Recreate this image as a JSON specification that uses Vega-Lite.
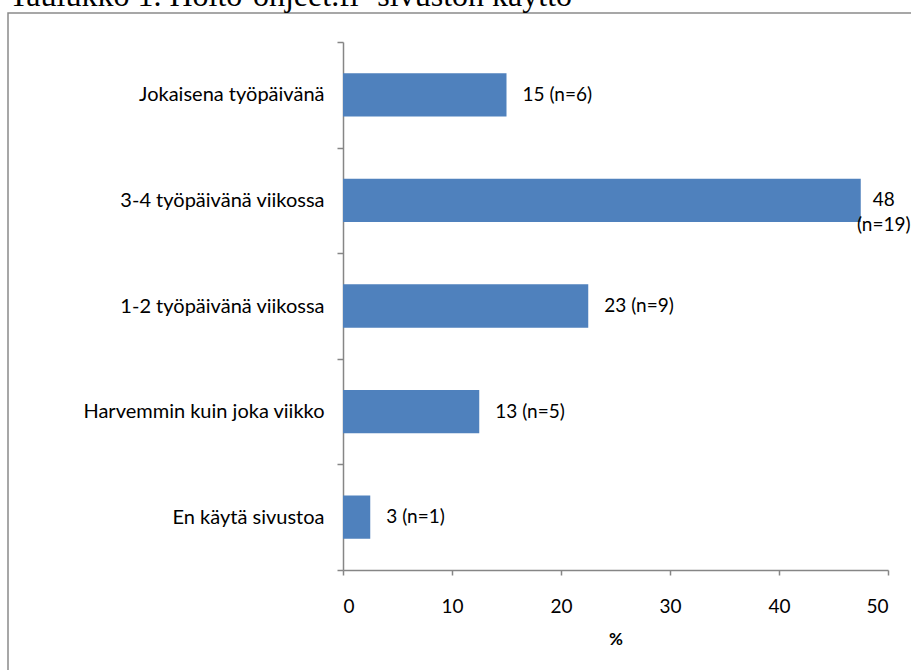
{
  "$schema": "https://vega.github.io/schema/vega-lite/v6.json",
  "autosize": {"type": "none"},
  "padding": {"left": 8, "top": 13, "right": 0, "bottom": 0},
  "width": 905,
  "height": 660,
  "background": "white",
  "title": {
    "text": "Taulukko 1. Hoito-ohjeet.fi -sivuston käyttö",
    "anchor": "start",
    "frame": "group",
    "font": "Liberation Serif",
    "fontSize": 32,
    "fontWeight": "normal",
    "color": "black",
    "baseline": "alphabetic",
    "offset": -35,
    "dx": 1
  },
  "config": {
    "view": {"stroke": "#8a8a8a", "strokeWidth": 1.5},
    "font": "Lato"
  },
  "data": {
    "values": [
      {"category": "Jokaisena työpäivänä", "value": 15, "label": "15 (n=6)"},
      {"category": "3-4 työpäivänä viikossa\u00a0", "value": 47.5, "label": "48\n(n=19)"},
      {"category": "1-2 työpäivänä viikossa", "value": 22.5, "label": "23 (n=9)"},
      {"category": "Harvemmin kuin joka viikko", "value": 12.5, "label": "13 (n=5)"},
      {"category": "En käytä sivustoa", "value": 2.5, "label": "3 (n=1)"}
    ]
  },
  "encoding": {
    "y": {
      "field": "category",
      "type": "nominal",
      "sort": null,
      "scale": {"range": [29, 557], "paddingInner": 0, "paddingOuter": 0},
      "axis": {
        "title": null,
        "orient": "left",
        "offset": -335,
        "tickBand": "extent",
        "tickSize": 6,
        "tickColor": "#868686",
        "domainColor": "#868686",
        "tickWidth": 1.5,
        "domainWidth": 1.5,
        "labelFont": "Lato",
        "labelFontSize": 20,
        "labelColor": "black",
        "labelPadding": 13,
        "labelLimit": 400,
        "grid": false
      }
    },
    "x": {
      "field": "value",
      "type": "quantitative",
      "scale": {"domain": [0, 50], "range": [335, 880], "nice": false, "zero": true},
      "axis": {
        "title": "%",
        "orient": "bottom",
        "offset": -103,
        "values": [0, 10, 20, 30, 40, 50],
        "tickSize": 5,
        "tickColor": "#868686",
        "domainColor": "#868686",
        "tickWidth": 1.5,
        "domainWidth": 1.5,
        "labelFont": "Lato",
        "labelFontSize": 19,
        "labelColor": "black",
        "labelPadding": 22,
        "titleFont": "Lato",
        "titleFontSize": 17,
        "titleFontWeight": "bold",
        "titleColor": "black",
        "titlePadding": 15,
        "grid": false
      }
    }
  },
  "layer": [
    {
      "mark": {"type": "bar", "color": "#4F81BD", "height": {"band": 0.41}}
    },
    {
      "transform": [{"filter": "datum.value < 40"}],
      "mark": {"type": "text", "align": "left", "baseline": "middle", "dx": 16, "fontSize": 19, "font": "Lato", "color": "black"},
      "encoding": {"text": {"field": "label"}}
    },
    {
      "transform": [{"filter": "datum.value >= 40"}],
      "mark": {"type": "text", "align": "center", "baseline": "middle", "dx": 23, "fontSize": 19, "font": "Lato", "color": "black", "lineBreak": "\n", "lineHeight": 25},
      "encoding": {"text": {"field": "label"}}
    }
  ]
}
